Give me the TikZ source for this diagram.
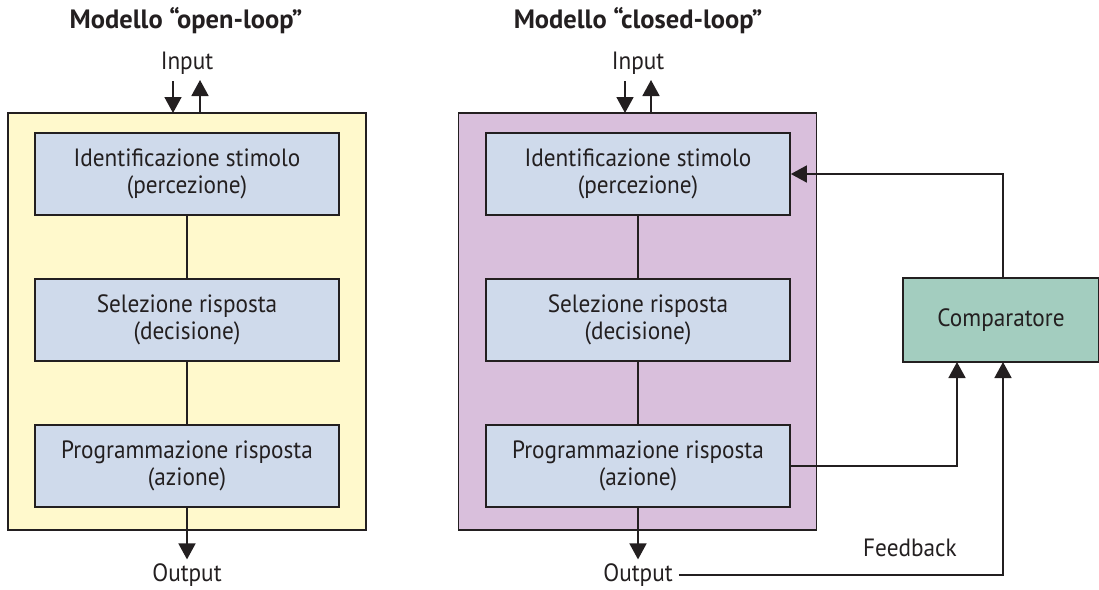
\documentclass[tikz,border=0pt]{standalone}
\usepackage{fontspec}
\setmainfont{PT Sans}
\newfontfamily\bodyfont[FakeStretch=0.93]{PT Sans}
\usetikzlibrary{arrows.meta,calc}
\definecolor{txt}{HTML}{231F20}
\definecolor{yel}{HTML}{FFF9CC}
\definecolor{pur}{HTML}{D9BFDC}
\definecolor{blu}{HTML}{CFDAEB}
\definecolor{grn}{HTML}{A3CDBF}
\tikzset{
  x=1pt,y=-1pt,
  every node/.style={text=txt,font=\bodyfont\fontsize{25}{27}\selectfont},
  outerbox/.style={draw=txt,line width=1.7pt,minimum width=358pt,minimum height=417pt,inner sep=0pt},
  stagebox/.style={draw=txt,line width=1.7pt,fill=blu,minimum width=304pt,minimum height=82pt,inner sep=0pt,align=center},
  compbox/.style={draw=txt,line width=1.7pt,fill=grn,minimum width=196pt,minimum height=84pt,inner sep=0pt},
  conn/.style={draw=txt,line width=1.7pt},
  arr/.style={conn,-{Triangle[length=16pt,width=17pt]}},
  lbl/.style={inner sep=0pt},
  ttl/.style={inner sep=0pt,font=\fontsize{26.5}{30}\selectfont\bfseries}
}
\begin{document}
\begin{tikzpicture}
\useasboundingbox (0,0) rectangle (1099,589);
% ---------- left: open loop ----------
\node[ttl] (t1) at (186,21) {Modello “open-loop”};
\node[lbl] (in1) at (187,63) {Input};
\node[outerbox,fill=yel] (L) at (187,321.5) {};
\node[stagebox] (L1) at (187,174) {Identificazione stimolo\\(percezione)};
\node[stagebox] (L2) at (187,320) {Selezione risposta\\(decisione)};
\node[stagebox] (L3) at (187,466) {Programmazione risposta\\(azione)};
\node[lbl] (out1) at (187,575) {Output};
\coordinate (L1in) at (173,81);
\coordinate (L1inb) at (173,113);
\coordinate (L1up) at (200,113);
\coordinate (L1upt) at (200,80);
\draw[arr] (L1in) -- (L1inb);
\draw[arr] (L1up) -- (L1upt);
\draw[conn] (L1) -- (L2);
\draw[conn] (L2) -- (L3);
\draw[arr] (L3.south) -- ($(out1.north)+(0,-4)$);
% ---------- right: closed loop ----------
\node[ttl] (t2) at (638,21) {Modello “closed-loop”};
\node[lbl] (in2) at (638,63) {Input};
\node[outerbox,fill=pur] (R) at (637.5,321.5) {};
\node[stagebox] (R1) at (638,174) {Identificazione stimolo\\(percezione)};
\node[stagebox] (R2) at (638,320) {Selezione risposta\\(decisione)};
\node[stagebox] (R3) at (638,466) {Programmazione risposta\\(azione)};
\node[lbl] (out2) at (638,575) {Output};
\node[compbox] (C) at (1001,320) {Comparatore};
\node[lbl] (fb) at (910,548) {Feedback};
\coordinate (R1in) at (625,81);
\coordinate (R1inb) at (625,113);
\coordinate (R1up) at (651,113);
\coordinate (R1upt) at (651,80);
\draw[arr] (R1in) -- (R1inb);
\draw[arr] (R1up) -- (R1upt);
\draw[conn] (R1) -- (R2);
\draw[conn] (R2) -- (R3);
\draw[arr] (R3.south) -- ($(out2.north)+(0,-4)$);
\coordinate (Ctop) at (1003,278);
\coordinate (Cin1) at (957,362);
\coordinate (Cin2) at (1003,362);
\draw[arr] (Ctop) |- (R1.east);
\draw[arr] (R3.east) -| (Cin1);
\draw[arr] ($(out2.east)+(6,0)$) -| (Cin2);
\end{tikzpicture}
\end{document}
